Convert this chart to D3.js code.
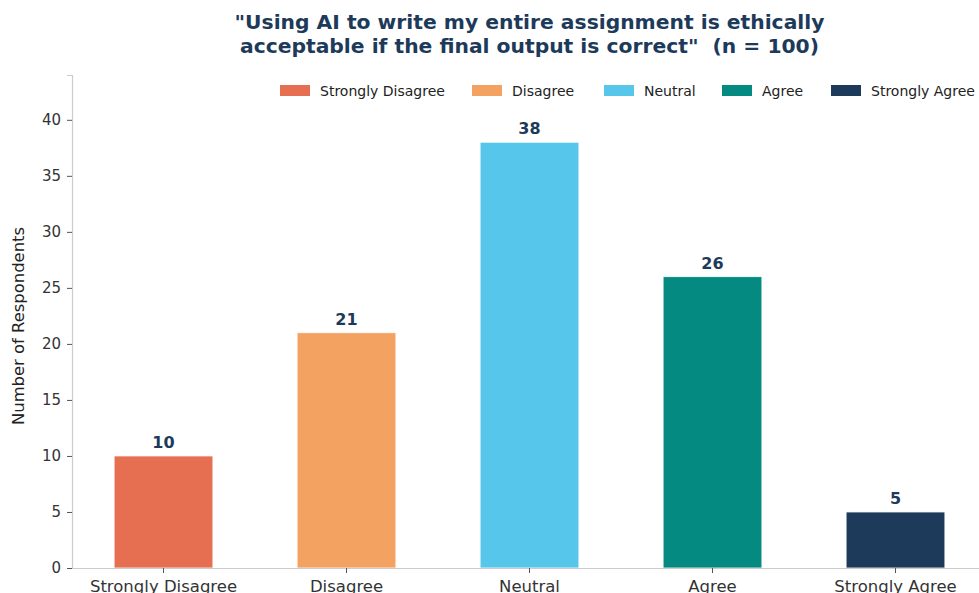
<!DOCTYPE html>
<html>
<head>
<meta charset="utf-8">
<script src="https://cdn.jsdelivr.net/npm/d3@7"></script>
<style>
  html, body { margin: 0; padding: 0; background: #fff; }
  svg { display: block; font-family: "DejaVu Sans", sans-serif; }
</style>
</head>
<body>
<svg id="chart" width="979" height="593"></svg>
<script>
// Survey responses
const categories = ["Strongly Disagree", "Disagree", "Neutral", "Agree", "Strongly Agree"];
const counts = [10, 21, 38, 26, 5];
const colors = ["#E76F51", "#F4A261", "#56C7EB", "#048A81", "#1D3A5A"];
const yTicks = [0, 5, 10, 15, 20, 25, 30, 35, 40];
const titleLines = ["\"Using AI to write my entire assignment is ethically", "acceptable if the final output is correct\"  (n = 100)"];
const yLabel = "Number of Respondents";

const svg = d3.select("#chart");
const margin = { left: 72, top: 75, bottom: 568, right: 987 };

const x = d3.scaleBand()
  .domain(categories)
  .range([margin.left, margin.right])
  .paddingInner(0.46)
  .paddingOuter(0.23);

const y = d3.scaleLinear()
  .domain([0, 44])
  .range([margin.bottom, margin.top]);

// Bars
svg.append("g").selectAll("rect")
  .data(categories)
  .join("rect")
  .attr("x", d => x(d))
  .attr("width", x.bandwidth())
  .attr("y", (d, i) => y(counts[i]))
  .attr("height", (d, i) => y(0) - y(counts[i]))
  .attr("fill", (d, i) => colors[i])
  .attr("stroke", "#fff")
  .attr("stroke-width", 0.8);

// Value labels
svg.append("g").selectAll("text")
  .data(categories)
  .join("text")
  .attr("x", d => x(d) + x.bandwidth() / 2)
  .attr("y", (d, i) => y(counts[i]) - 8)
  .attr("text-anchor", "middle")
  .attr("font-size", 16)
  .attr("font-weight", "bold")
  .attr("fill", "#1D3A5A")
  .text((d, i) => counts[i]);

// Y axis
const yAxis = svg.append("g")
  .attr("transform", `translate(${margin.left},0)`)
  .call(d3.axisLeft(y).tickValues(yTicks).tickSize(5).tickPadding(6));
yAxis.select(".domain").attr("stroke", "#cccccc").attr("stroke-width", 1.2);
yAxis.selectAll(".tick line").attr("stroke", "#555");
yAxis.selectAll(".tick text").attr("font-size", 15).attr("fill", "#333")
  .attr("font-family", "DejaVu Sans, sans-serif");

// X axis
const xAxis = svg.append("g")
  .attr("transform", `translate(0,${margin.bottom})`)
  .call(d3.axisBottom(x).tickSize(5).tickPadding(7).tickSizeOuter(0));
xAxis.select(".domain").attr("stroke", "#cccccc").attr("stroke-width", 1.2);
xAxis.selectAll(".tick line").attr("stroke", "#555");
xAxis.selectAll(".tick text").attr("font-size", 16.5).attr("fill", "#333")
  .attr("font-family", "DejaVu Sans, sans-serif");

// Y axis label
svg.append("text")
  .attr("transform", `translate(24,326) rotate(-90)`)
  .attr("text-anchor", "middle")
  .attr("font-size", 16.4)
  .attr("fill", "#222")
  .text(yLabel);

// Title
svg.append("text")
  .attr("x", (margin.left + margin.right) / 2)
  .attr("text-anchor", "middle")
  .attr("font-size", 20.3)
  .attr("font-weight", "bold")
  .attr("fill", "#1D3A5A")
  .style("white-space", "pre")
  .selectAll("tspan")
  .data(titleLines)
  .join("tspan")
  .attr("x", (margin.left + margin.right) / 2)
  .attr("y", (d, i) => 29 + i * 24)
  .text(d => d);

// Legend
const legendX = [280, 472, 604, 722, 831];
const legend = svg.append("g").selectAll("g")
  .data(categories)
  .join("g")
  .attr("transform", (d, i) => `translate(${legendX[i]},85)`);
legend.append("rect")
  .attr("width", 30).attr("height", 11)
  .attr("fill", (d, i) => colors[i]);
legend.append("text")
  .attr("x", 40).attr("y", 11)
  .attr("font-size", 14)
  .attr("fill", "#222")
  .text(d => d);
</script>
</body>
</html>
